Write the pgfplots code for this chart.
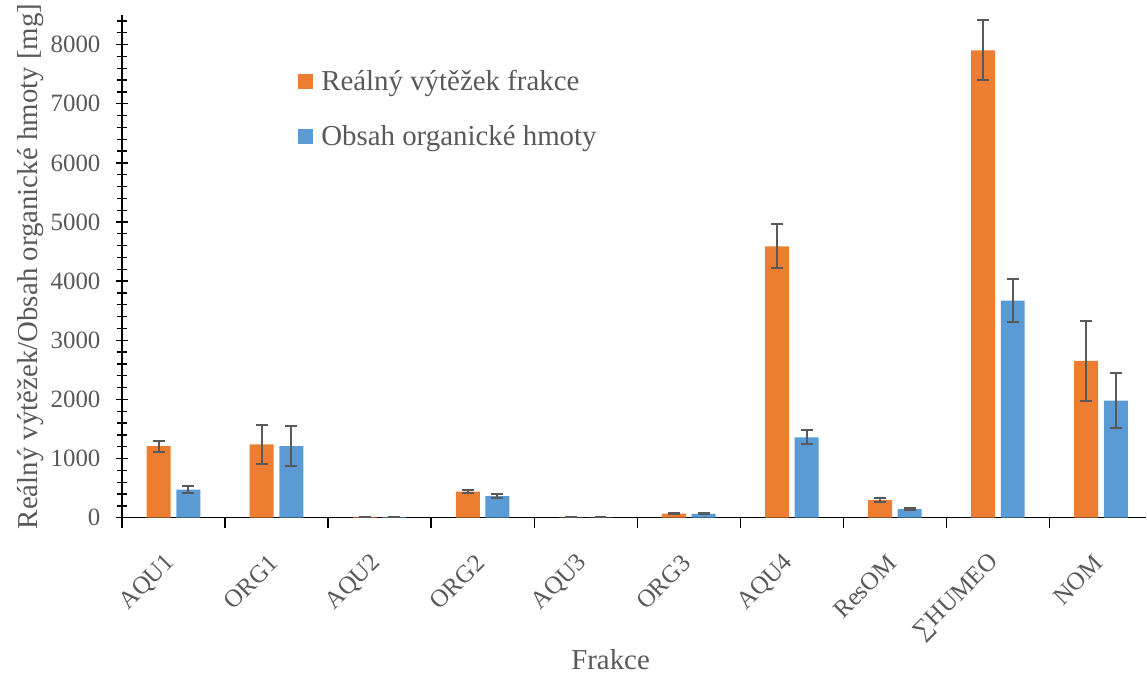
\documentclass[border=0pt]{standalone}
\usepackage{fontspec}
\setmainfont{Liberation Serif}
\usepackage{pgfplots}
\usepackage{pgfplotstable}
\pgfplotsset{compat=1.18}
\definecolor{xorange}{RGB}{237,125,49}
\definecolor{xblue}{RGB}{91,155,213}
\definecolor{xgray}{RGB}{89,89,89}
\pgfplotstableread{
x o oe b be
0 1210 93 475 65
1 1240 333 1210 335
2 15 3 10 2
3 440 28 367 28
4 5 1 5 1
5 68 10 65 8
6 4590 372 1360 120
7 299 27 147 13
8 7900 507 3670 360
9 2650 677 1978 468
}\data
\begin{document}
\begin{tikzpicture}
\begin{axis}[
  scale only axis,
  width=1025bp, height=503bp,
  xmin=-0.5, xmax=9.44,
  ymin=0, ymax=8500,
  axis lines*=left,
  axis line style={black, line width=1.3bp},
  xtick={0,...,9},
  xticklabels={AQU1,ORG1,AQU2,ORG2,AQU3,ORG3,AQU4,ResOM,∑HUMEO,NOM},
  major x tick style={draw=none},
  minor xtick={-0.5,0.5,...,9.5},
  xtick align=outside,
  ytick={0,1000,...,8000},
  minor ytick={200,400,...,8400},
  ytick align=center,
  tick style={black, line width=1.3bp},
  major tick length=12bp,
  minor tick length=10bp,
  xticklabel style={rotate=45, anchor=east, font=\fontsize{25}{29}\selectfont, text=xgray},
  xticklabel shift=27bp,
  yticklabel style={font=\fontsize{25}{29}\selectfont, text=xgray, xshift=-12bp},
  /pgf/number format/assume math mode=true,
  /pgf/number format/1000 sep={},
  xlabel={Frakce},
  xlabel style={at={(rel axis cs:0.477,0)}, anchor=base, inner sep=0pt, yshift=-152bp},
  ylabel={Reálný výtěžek/Obsah organické hmoty [mg]},
  label style={font=\fontsize{29}{33}\selectfont, text=xgray},
  ybar, bar width=24bp,
  legend style={at={(rel axis cs:0.172,0.894)}, anchor=north west, draw=none, fill=none,
    font=\fontsize{29}{33}\selectfont, text=xgray, row sep=29bp, column sep=6bp, inner sep=0pt},
  legend cell align=left,
  legend image code/.code={\fill[#1] (0bp,-7.5bp) rectangle (15bp,7.5bp);},
  error bars/error bar style={xgray, line width=2bp},
  error bars/error mark options={rotate=90, mark size=6bp, xgray, line width=2bp},
]
\addplot[fill=xorange, draw=none, bar shift=-14.8bp,
  error bars/.cd, y dir=both, y explicit]
  table[x=x, y=o, y error=oe] {\data};
\addplot[fill=xblue, draw=none, bar shift=14.8bp,
  error bars/.cd, y dir=both, y explicit]
  table[x=x, y=b, y error=be] {\data};
\legend{Reálný výtěžek frakce, Obsah organické hmoty}
\end{axis}
\path ([yshift=15bp]current axis.north);
\path ([xshift=-122bp]current axis.south west);
\path ([yshift=-156bp]current axis.south);
\end{tikzpicture}
\end{document}
